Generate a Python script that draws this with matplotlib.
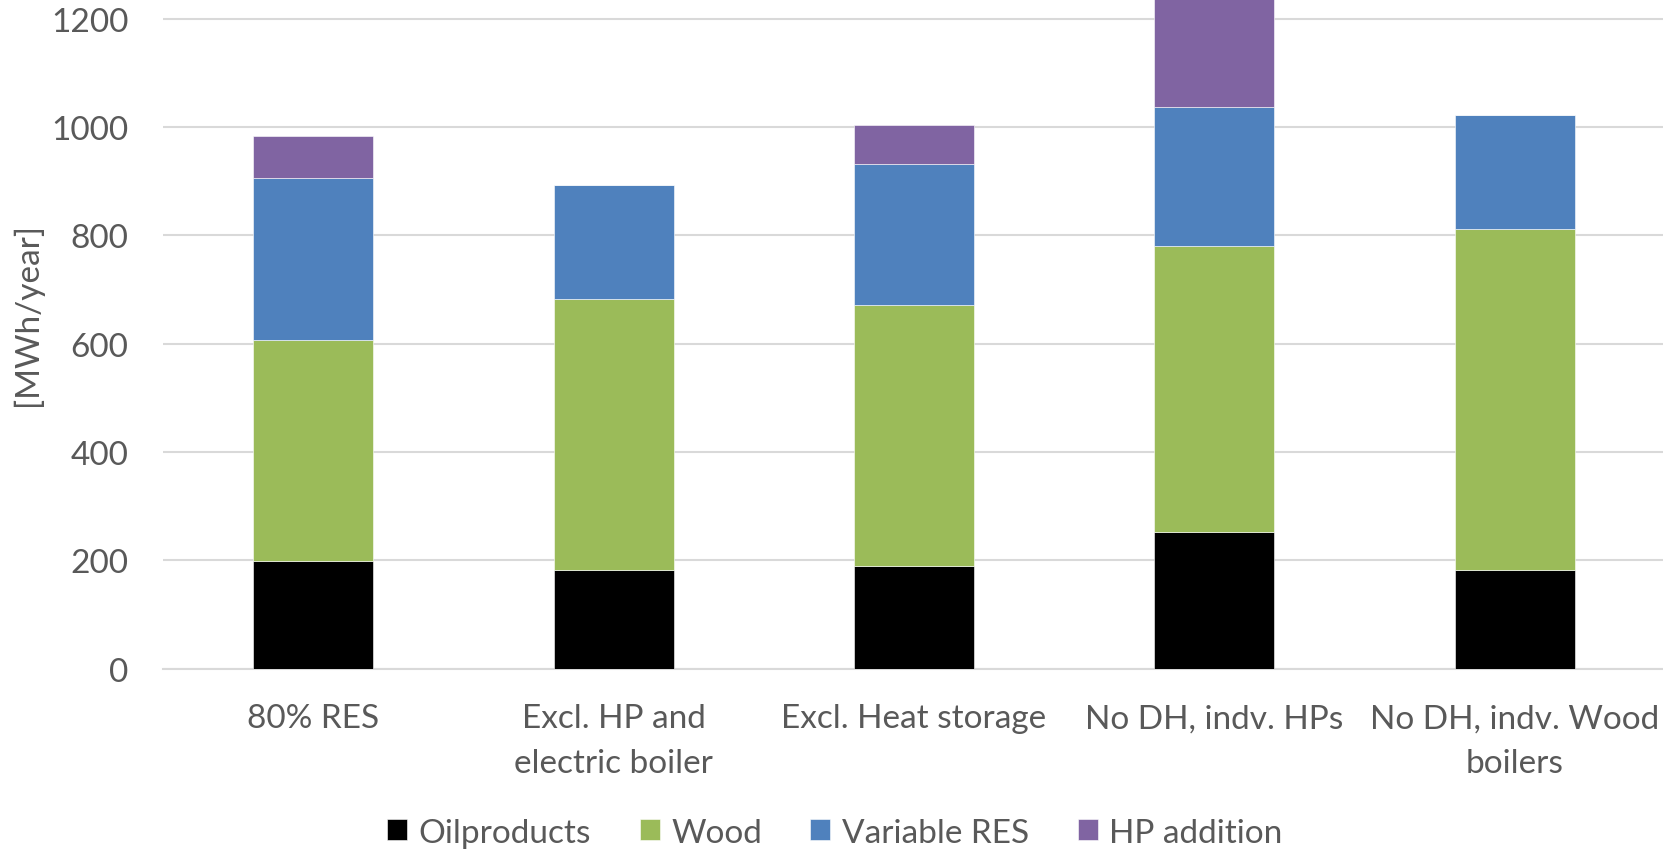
import numpy as np
import matplotlib
matplotlib.use('Agg')
import matplotlib.pyplot as plt

plt.rcParams['font.family'] = ['Lato', 'DejaVu Sans']

#%% data [MWh/year]
scenarios = ['80% RES', 'Excl. HP and\nelectric boiler', 'Excl. Heat storage',
             'No DH, indv. HPs', 'No DH, indv. Wood\nboilers']
oilproducts = [199, 182, 189, 253, 182]
wood = [408, 501, 482, 528, 630]
variable_res = [298, 209, 260, 256, 210]
hp_addition = [79, 0, 73, 250, 0]

series = [('Oilproducts', oilproducts, '#000000'),
          ('Wood', wood, '#9BBB59'),
          ('Variable RES', variable_res, '#4F81BD'),
          ('HP addition', hp_addition, '#8064A2')]

#%% plot
fig = plt.figure(figsize=(16.63, 8.53), dpi=100)
ax = fig.add_axes([163 / 1663, 1 - 669.7 / 853, 1502 / 1663, 669.7 / 853])

x = np.arange(len(scenarios))
bottom = np.zeros(len(scenarios))
for nombre, valores, color in series:
    ax.bar(x, valores, width=0.4, bottom=bottom, color=color, label=nombre,
           edgecolor='white', linewidth=0.4, zorder=3)
    bottom += np.array(valores)

ax.set_xlim(-0.5, 4.5)
ax.set_ylim(0, 1236)
ax.set_yticks(np.arange(0, 1201, 200))
ax.yaxis.grid(True, color='#D9D9D9', linewidth=1.5, zorder=0)
ax.set_axisbelow(True)

for s in ['top', 'right', 'left']:
    ax.spines[s].set_visible(False)
ax.spines['bottom'].set_color('#D9D9D9')
ax.spines['bottom'].set_linewidth(1.5)

gris = '#595959'
ax.set_xticks(x)
ax.set_xticklabels(scenarios, linespacing=1.6)
ax.tick_params(axis='both', length=0, labelsize=24, labelcolor=gris)
ax.tick_params(axis='y', pad=25)
ax.tick_params(axis='x', pad=25)

ax.set_ylabel('[MWh/year]', fontsize=24, color=gris)
ax.yaxis.set_label_coords(-0.080, 0.53)

fig.legend(loc='lower center', bbox_to_anchor=(0.502, -0.03), ncol=4, frameon=False,
           fontsize=24, labelcolor=gris, handlelength=0.6, handleheight=0.6,
           handletextpad=0.35, columnspacing=1.45)

plt.savefig('out.png', dpi=100)
